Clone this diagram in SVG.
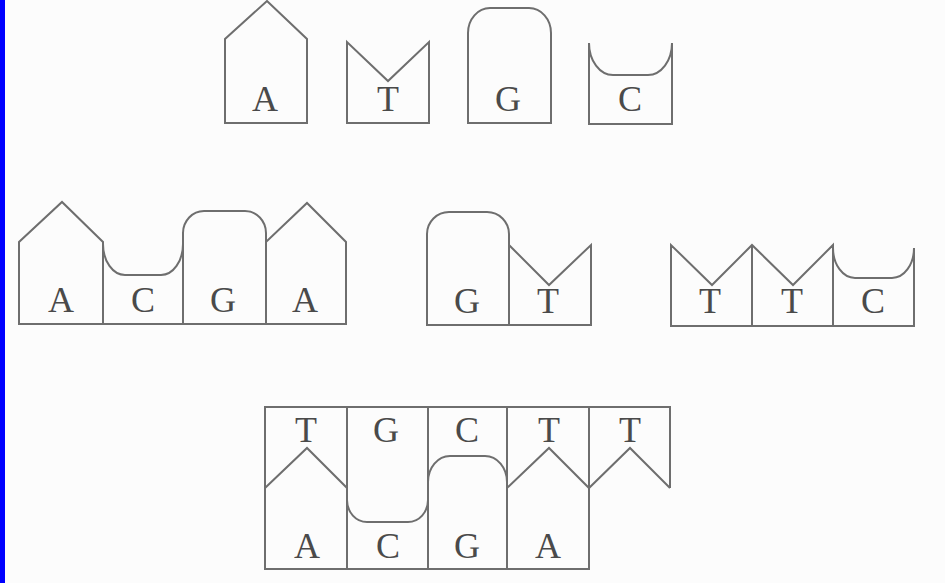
<svg xmlns="http://www.w3.org/2000/svg" width="945" height="583" viewBox="0 0 945 583">
<style>
.s{fill:none;stroke:#6e6e6e;stroke-width:2;stroke-linejoin:miter}
.t{font-family:"Liberation Serif","Times New Roman",serif;font-size:36px;fill:#4a4a4a;text-anchor:middle}
</style>
<rect x="0" y="0" width="945" height="583" fill="#fcfcfc"/>
<rect x="0" y="0" width="5" height="583" fill="#0000ff"/>

<g id="base-A">
<path class="s" d="M225,123 V39 L267,1 L307,39 V123 Z"/>
<text class="t" x="265" y="111">A</text>
</g>
<g id="base-T">
<path class="s" d="M347,123 V42 L388,81 L429,42 V123 Z"/>
<text class="t" x="388" y="111">T</text>
</g>
<g id="base-G">
<path class="s" d="M468,123 V33 A22,25 0 0 1 490,8 H529 A22,25 0 0 1 551,33 V123 Z"/>
<text class="t" x="508" y="111">G</text>
</g>
<g id="base-C">
<path class="s" d="M589,43 A24,32 0 0 0 613,75 H648 A24,32 0 0 0 672,43 V124 H589 Z"/>
<text class="t" x="630" y="111">C</text>
</g>

<g id="strand-ACGA">
<path class="s" d="M19,324 V242 L62,202 L103,242 V244 A22,31 0 0 0 125,275 H161 A22,31 0 0 0 183,244 V233 A21,22 0 0 1 204,211 H245 A21,22 0 0 1 266,233 V242 L307,203 L346,242 V324 Z"/>
<path class="s" d="M103,242 V324 M183,242 V324 M266,242 V324"/>
<text class="t" x="61" y="312">A</text>
<text class="t" x="143" y="312">C</text>
<text class="t" x="223" y="312">G</text>
<text class="t" x="305" y="312">A</text>
</g>

<g id="strand-GT">
<path class="s" d="M427,325 V234 A22,22 0 0 1 449,212 H487 A22,22 0 0 1 509,234 V245 L549,285 L591,245 V325 Z"/>
<path class="s" d="M509,245 V325"/>
<text class="t" x="467" y="313">G</text>
<text class="t" x="548" y="313">T</text>
</g>

<g id="strand-TTC">
<path class="s" d="M671,326 V245 L712,285 L752,245 L793,285 L833,245 V248 A22,30 0 0 0 855,278 H892 A22,30 0 0 0 914,248 V326 Z"/>
<path class="s" d="M752,245 V326 M833,245 V326"/>
<text class="t" x="710" y="313">T</text>
<text class="t" x="792" y="313">T</text>
<text class="t" x="873" y="313">C</text>
</g>

<g id="double-strand">
<path class="s" d="M265,488 V407 H670 V488"/>
<path class="s" d="M265,407 V569 H589 V407 M347,407 V569 M428,407 V569 M507,407 V569"/>
<path class="s" d="M265,488 L307,448 L347,488 V500 A20,22 0 0 0 367,522 H408 A20,22 0 0 0 428,500 V482 A22,26 0 0 1 450,456 H485 A22,26 0 0 1 507,482 V488 L549,448 L589,488 L630,448 L670,488"/>
<text class="t" x="306" y="442">T</text>
<text class="t" x="386" y="442">G</text>
<text class="t" x="467" y="442">C</text>
<text class="t" x="549" y="442">T</text>
<text class="t" x="630" y="442">T</text>
<text class="t" x="307" y="558">A</text>
<text class="t" x="388" y="558">C</text>
<text class="t" x="467" y="558">G</text>
<text class="t" x="548" y="558">A</text>
</g>
</svg>
